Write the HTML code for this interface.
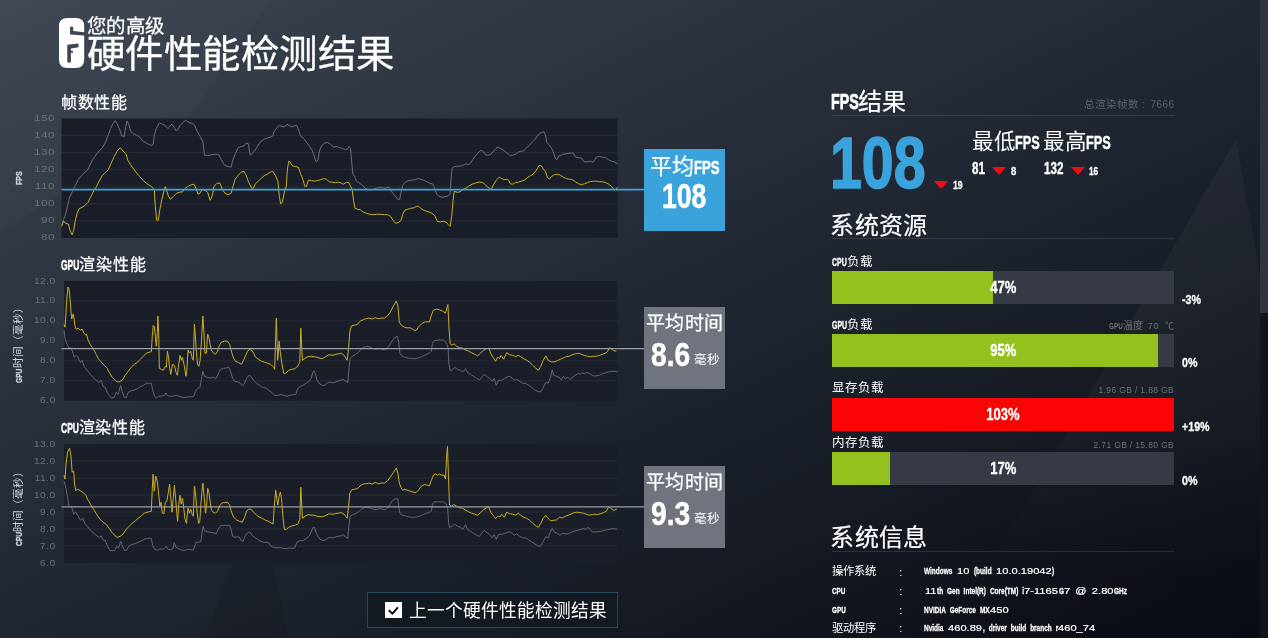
<!DOCTYPE html>
<html lang="zh-CN">
<head>
<meta charset="utf-8">
<title>硬件性能检测结果</title>
<style>
*{box-sizing:border-box;margin:0;padding:0}
html,body{width:1268px;height:638px;overflow:hidden;background:#141922}
body{position:relative;font-family:"Liberation Sans",sans-serif;color:#fff;
 background:linear-gradient(154.6deg,#3c4551 0%,#313a45 18%,#282f3b 37%,#1d232d 57.5%,#11151e 81.6%,#0d1019 90%,#0a0c14 100%);
}
.abs{position:absolute}
.cn{font-weight:300;white-space:nowrap}
.cb{font-weight:700;display:inline-block;transform-origin:0 50%;white-space:nowrap}
.yl{position:absolute;left:0;text-align:right;font-size:9px;letter-spacing:.4px;color:#6b7179;line-height:14px;height:14px;transform:scaleX(1.22);transform-origin:100% 50%}
.ct{-webkit-text-stroke:0.25px #fff;position:absolute;left:60.8px;font-size:16px;line-height:20px;white-space:nowrap;font-weight:400;letter-spacing:0.75px}
.rot{position:absolute;white-space:nowrap;transform-origin:0 0;transform:rotate(-90deg);font-size:10.6px;line-height:12px;color:#d4d7db}
.box{position:absolute;left:644px;width:81px;text-align:center}
.h2{position:absolute;left:830.3px;font-size:24px;line-height:28px;font-weight:400;white-space:nowrap;letter-spacing:.4px;-webkit-text-stroke:0.2px #fff}
.hr{position:absolute;left:831.5px;width:343.5px;height:1px;background:rgba(255,255,255,0.11)}
.bar{position:absolute;left:832px;width:342px;height:33px;background:#363a45}
.bar i{position:absolute;left:0;top:0;bottom:0;background:#95c11e;display:block}
.bar b{position:absolute;left:0;right:0;top:0;line-height:33px;text-align:center;font-size:16.3px;-webkit-text-stroke:0.4px #fff}
.bl{position:absolute;left:832px;font-size:12.5px;line-height:16px;white-space:nowrap;font-weight:400}
.br{position:absolute;right:94px;font-size:8.5px;line-height:12px;color:#6f747c;white-space:nowrap;letter-spacing:0.35px}
.dl{position:absolute;left:1181.5px;font-size:12.7px;line-height:14px;font-weight:700;white-space:nowrap;-webkit-text-stroke:0.3px #fff}
.sk{position:absolute;left:831.5px;font-size:11.3px;line-height:16px;white-space:nowrap}
.sc{position:absolute;left:899.3px;font-size:11px;line-height:16px}
.sv{position:absolute;left:924.3px;font-size:9.6px;line-height:16px;white-space:nowrap;font-weight:700}
.n{font-weight:400;letter-spacing:0.9px;font-size:9.5px}
.tri{position:absolute;width:0;height:0;border-left:7px solid transparent;border-right:7px solid transparent;border-top:8px solid #f20d12}
</style>
</head>
<body>
<div id="root" style="position:absolute;left:0;top:0;width:1268px;height:638px;will-change:transform">
<!-- decorative bg polygons -->
<svg class="abs" style="left:0;top:0" width="1268" height="638" viewBox="0 0 1268 638">
 <defs><linearGradient id="tg" x1="0" y1="0" x2="0" y2="1"><stop offset="0" stop-color="#fff" stop-opacity="0.035"/><stop offset="0.55" stop-color="#fff" stop-opacity="0.03"/><stop offset="1" stop-color="#fff" stop-opacity="0"/></linearGradient></defs>
 <polygon points="1236,139 1268,318 1268,600 970,600" fill="url(#tg)"/>
 <polygon points="0,0 272,0 192,112 0,232" fill="rgba(255,255,255,0.018)"/>
 <polygon points="205,638 288,638 268,540 240,540" fill="rgba(0,0,0,0.07)"/>
</svg>

<!-- scrollbar -->
<div class="abs" style="left:1260px;top:0;width:8px;height:638px;background:#12151b"></div>
<div class="abs" style="left:1260px;top:0;width:8px;height:313px;background:#30343f"></div>

<!-- logo -->
<svg class="abs" style="left:58px;top:17px" width="28" height="52" viewBox="58 17 28 52">
 <path fill="#fff" fill-rule="evenodd" d="M67.5,17.9 H75.7 Q84.2,17.9 84.2,26 V32.3 L73.2,31 V26.8 H70.1 V34.5 L84.2,35.5 V59.8 Q84.2,68 75.7,68 H67.5 Q59,68 59,59.8 V26 Q59,17.9 67.5,17.9 Z
 M67.3,44.7 L78.5,43.4 V47.2 L70.9,48.6 V50.7 H72.9 V52.8 H70.9 V62.4 H67.3 Z"/>
</svg>

<!-- title -->
<div class="abs cn" style="left:86.5px;top:14.2px;font-size:19px;line-height:26px;font-weight:400;-webkit-text-stroke:0.25px #fff;transform:scale(1.023,1);transform-origin:0 50%">您的高级</div>
<div class="abs cn" style="left:87px;top:29.2px;font-size:38px;line-height:50px;-webkit-text-stroke:0.35px #fff;transform:scale(1.011,1.0);transform-origin:0 50%">硬件性能检测结果</div>

<!-- chart 1 : FPS -->
<div class="ct" style="top:93px">帧数性能</div>
<div class="yl" style="top:111.0px;width:55px;transform:scaleX(1.3)">150</div><div class="yl" style="top:128.07px;width:55px;transform:scaleX(1.3)">140</div><div class="yl" style="top:145.14px;width:55px;transform:scaleX(1.3)">130</div><div class="yl" style="top:162.21px;width:55px;transform:scaleX(1.3)">120</div><div class="yl" style="top:179.28px;width:55px;transform:scaleX(1.3)">110</div><div class="yl" style="top:196.35px;width:55px;transform:scaleX(1.3)">100</div><div class="yl" style="top:213.42000000000002px;width:55px;transform:scaleX(1.3)">90</div><div class="yl" style="top:230.49px;width:55px;transform:scaleX(1.3)">80</div>
<div class="rot" style="left:13px;top:185px;font-weight:700;font-size:9.5px"><span class="cb" style="transform:scaleX(.74);-webkit-text-stroke:0.3px #d4d7db">FPS</span></div>
<svg class="abs" style="left:0;top:0" width="1268" height="638" viewBox="0 0 1268 638" fill="none">
 <rect x="61.5" y="118.5" width="556" height="119.5" fill="#1a1e28"/>
 <line x1="61.5" y1="135.6" x2="617.5" y2="135.6" stroke="rgba(255,255,255,0.065)" stroke-width="1"/><line x1="61.5" y1="152.6" x2="617.5" y2="152.6" stroke="rgba(255,255,255,0.065)" stroke-width="1"/><line x1="61.5" y1="169.7" x2="617.5" y2="169.7" stroke="rgba(255,255,255,0.065)" stroke-width="1"/><line x1="61.5" y1="186.8" x2="617.5" y2="186.8" stroke="rgba(255,255,255,0.065)" stroke-width="1"/><line x1="61.5" y1="203.8" x2="617.5" y2="203.8" stroke="rgba(255,255,255,0.065)" stroke-width="1"/><line x1="61.5" y1="220.9" x2="617.5" y2="220.9" stroke="rgba(255,255,255,0.065)" stroke-width="1"/>
 <polyline points="61.6,225.4 63.6,219.3 65.6,214.3 67.6,205.3 69.6,197.3 72.5,191.3 75.5,185.2 78.5,179.2 81.5,175.8 84.5,172.6 87.5,170.2 90.5,163.8 93.5,158.5 96.5,154.1 99.5,150.5 102.5,147.7 105.6,142.1 108.2,135.1 110.6,128.5 113.2,123.0 115.2,120.4 117.2,124.0 119.8,129.7 121.8,135.7 124.2,136.5 125.6,127.7 126.8,121.0 128.6,123.6 130.6,131.1 133.2,133.7 136.3,135.1 139.3,136.5 142.3,140.5 145.3,142.5 148.3,144.1 151.3,145.5 153.3,144.1 154.3,135.1 156.3,128.5 159.3,123.0 162.3,124.0 165.3,125.6 167.8,128.5 169.4,127.0 171.8,124.0 174.0,127.0 176.4,131.1 178.0,129.1 180.0,125.6 182.4,123.0 185.4,120.4 188.4,122.0 190.0,123.0 193.0,123.6 195.0,126.0 197.0,131.1 200.0,136.1 203.0,142.1 204.4,155.1 207.1,155.7 210.1,155.1 213.1,154.5 216.1,154.1 219.1,155.1 221.1,159.2 224.1,164.6 227.1,166.2 231.1,167.2 232.5,161.2 235.1,154.1 238.2,147.7 241.2,146.5 244.2,145.7 246.2,143.1 248.2,143.7 250.2,155.1 252.6,153.1 255.2,150.1 258.2,145.1 261.2,141.1 264.2,139.1 267.2,138.1 270.3,137.1 272.7,136.1 274.3,131.1 277.3,127.0 279.3,125.6 281.9,126.4 284.3,127.0 287.3,124.4 289.3,125.6 292.3,127.0 294.7,125.6 296.7,125.6 299.3,132.1 300.4,136.1 303.4,138.1 306.4,142.1 309.4,146.1 312.0,150.1 314.0,155.1 316.0,161.8 318.0,160.2 319.4,151.1 321.4,146.1 324.4,143.1 327.4,142.5 330.4,144.1 333.5,147.1 336.5,146.5 339.5,147.7 342.5,148.5 345.5,149.7 347.5,149.1 348.9,146.5 350.5,148.1 351.5,160.2 352.9,174.2 354.5,176.2 356.5,181.2 359.5,183.2 362.6,185.2 365.0,188.2 367.6,189.2 370.6,189.8 373.6,189.2 376.6,188.2 379.6,187.2 382.6,187.8 385.6,188.2 388.6,187.2 390.6,189.2 392.6,193.3 395.7,196.3 397.7,199.3 399.7,199.3 401.1,192.3 402.7,185.2 405.7,181.8 408.7,180.6 411.7,180.2 414.7,179.8 417.7,178.6 420.7,179.2 423.7,180.2 426.8,181.8 429.8,183.2 432.8,184.2 434.8,189.2 436.8,194.3 439.0,196.3 442.0,197.3 445.0,196.7 448.1,195.9 450.1,194.3 451.1,178.2 452.1,168.2 454.1,166.6 457.1,166.2 460.1,166.2 463.1,165.2 466.1,163.8 469.1,164.6 471.1,162.2 473.1,159.2 476.1,155.1 479.2,151.7 481.8,150.1 483.8,152.1 485.8,155.1 488.2,155.1 490.6,154.5 493.2,151.7 495.8,148.5 498.2,147.1 500.6,148.5 503.2,150.1 505.8,152.1 508.3,154.1 510.3,155.7 513.3,155.1 515.9,154.1 518.3,152.1 521.3,151.1 523.3,151.1 526.3,148.1 529.3,145.1 532.3,142.1 535.3,139.1 538.3,134.5 541.4,132.5 544.0,131.7 545.4,135.1 546.8,142.1 548.8,144.5 551.4,148.1 553.4,152.1 555.4,158.5 556.8,159.8 558.8,156.1 562.4,154.5 566.4,153.7 570.4,153.1 573.5,153.1 575.5,157.1 578.5,157.7 581.5,158.1 584.1,161.8 587.5,161.8 590.5,161.2 592.9,162.2 594.5,160.2 596.5,157.1 599.5,156.5 602.6,157.1 605.6,157.7 608.6,159.8 611.6,161.2 614.6,162.2 617.6,163.8" stroke="#70757f" stroke-width="0.95" stroke-linejoin="round"/>
 <polyline points="61.6,226.4 63.6,221.3 66.0,223.4 68.4,224.0 70.0,230.4 72.1,234.8 73.7,230.4 75.1,221.3 77.1,213.3 79.1,208.7 82.1,207.3 85.1,205.3 88.1,202.3 90.5,197.3 93.1,192.3 96.1,187.2 99.1,181.2 102.1,175.8 105.2,172.6 108.2,169.8 111.2,163.2 114.2,156.5 117.2,151.1 120.2,147.7 123.2,151.1 126.2,154.5 127.8,160.2 130.6,164.6 133.8,169.2 137.3,173.8 140.3,177.2 143.3,180.6 146.3,183.2 149.3,185.2 152.3,187.2 154.3,190.3 155.3,206.3 156.7,220.3 158.3,220.3 159.9,209.3 161.9,199.3 163.9,191.3 165.3,186.6 167.0,191.3 168.4,196.3 170.4,199.3 173.4,196.3 176.4,193.3 179.4,192.3 182.4,191.9 185.4,188.2 188.4,186.2 190.0,185.2 194.0,184.2 196.0,188.2 198.0,194.3 200.0,193.3 202.0,189.2 205.0,190.3 207.7,192.3 210.1,200.3 212.1,196.3 214.1,186.2 217.1,183.2 220.1,183.2 222.1,189.2 225.1,193.3 228.1,194.7 231.1,193.3 233.1,186.2 235.1,179.2 238.2,175.2 241.2,172.2 243.8,171.2 246.2,175.2 248.2,181.2 250.2,185.2 252.6,189.8 255.2,184.2 258.2,181.2 261.2,178.2 264.2,175.8 267.2,174.2 270.3,172.2 272.7,171.2 275.3,175.2 277.9,181.2 279.3,196.3 280.7,203.9 282.3,202.3 284.3,192.3 286.3,186.2 287.3,170.2 288.7,161.2 290.3,162.2 292.3,165.8 295.3,166.6 298.3,167.2 300.4,173.2 302.8,179.2 304.8,186.2 306.4,186.6 308.4,180.2 311.4,180.6 314.4,181.2 317.4,180.6 320.4,179.8 323.4,178.6 326.4,179.2 329.4,181.8 332.5,182.2 335.5,182.6 338.5,182.2 341.5,183.2 343.5,184.2 346.5,182.2 348.9,182.6 350.5,186.2 352.1,189.2 353.5,200.3 354.9,208.3 357.5,209.3 360.5,209.9 363.6,212.3 366.6,213.3 369.6,214.3 372.6,214.7 376.6,214.3 380.6,214.3 384.6,214.7 387.6,214.7 390.6,216.3 393.0,220.3 395.7,223.4 398.7,222.4 401.1,220.3 402.7,214.3 404.7,210.3 407.7,209.3 410.7,208.3 413.7,207.9 416.7,206.3 418.7,206.3 420.7,208.3 423.7,210.3 426.8,211.3 429.8,212.3 432.8,213.9 435.2,216.3 437.2,221.3 440.0,222.0 443.0,221.3 446.1,222.0 448.1,224.4 450.1,226.4 451.7,216.3 453.1,200.3 454.1,191.3 457.1,192.3 460.1,191.9 463.1,189.2 466.1,188.2 469.1,185.8 472.1,184.2 475.1,183.2 478.2,182.2 481.2,182.2 483.8,183.2 486.2,185.8 489.2,188.2 491.2,189.8 493.2,185.2 496.2,180.2 499.2,177.2 501.2,178.2 503.8,179.8 506.2,179.2 508.7,180.2 510.3,183.8 512.7,184.2 515.3,182.6 518.3,182.2 521.3,181.2 524.3,180.2 527.3,177.8 530.3,175.8 533.3,174.2 536.3,170.2 539.3,165.2 541.4,165.8 543.4,169.2 545.4,171.2 547.4,177.2 549.4,179.2 551.4,176.6 554.4,174.6 557.4,174.2 560.4,175.2 563.4,177.2 566.4,178.6 569.4,179.2 572.5,179.8 575.5,181.8 578.5,183.8 581.5,184.6 584.5,183.8 587.5,182.6 590.5,181.6 593.5,181.2 596.5,181.2 599.5,181.8 602.6,181.8 605.6,182.6 608.6,184.2 611.6,186.6 614.2,189.8 616.2,189.2 617.6,187.2" stroke="#cdae20" stroke-width="1.0" stroke-linejoin="round"/>
 <line x1="61.5" y1="189.6" x2="644" y2="189.6" stroke="#3da5dc" stroke-width="1.6"/>

 <rect x="64" y="281" width="553.5" height="119.7" fill="#1a1e28"/>
 <line x1="64" y1="300.9" x2="617.5" y2="300.9" stroke="rgba(255,255,255,0.065)" stroke-width="1"/><line x1="64" y1="320.9" x2="617.5" y2="320.9" stroke="rgba(255,255,255,0.065)" stroke-width="1"/><line x1="64" y1="340.9" x2="617.5" y2="340.9" stroke="rgba(255,255,255,0.065)" stroke-width="1"/><line x1="64" y1="360.8" x2="617.5" y2="360.8" stroke="rgba(255,255,255,0.065)" stroke-width="1"/><line x1="64" y1="380.8" x2="617.5" y2="380.8" stroke="rgba(255,255,255,0.065)" stroke-width="1"/>
 <polyline points="64.0,330.2 65.0,338.2 67.0,344.2 69.0,348.2 71.0,347.8 73.1,353.2 74.1,357.3 76.1,355.3 77.7,356.3 79.1,360.3 80.5,362.3 82.1,360.3 84.1,366.3 87.1,370.3 90.1,374.3 93.1,377.3 96.1,380.3 99.1,382.3 101.1,380.3 103.2,386.4 105.2,387.4 107.2,392.4 109.2,395.4 111.2,398.0 114.2,397.4 116.2,392.4 118.2,394.4 120.6,385.3 122.2,391.4 124.2,397.4 126.2,397.4 128.2,392.4 131.2,390.8 134.3,390.0 137.3,388.8 140.3,386.8 143.3,385.3 146.3,383.3 149.3,383.3 151.3,383.3 152.7,390.4 154.7,396.4 156.3,398.4 158.3,396.4 161.3,396.0 164.3,395.4 166.0,392.8 167.4,395.4 170.4,396.4 173.4,396.0 176.4,395.4 179.4,396.4 182.4,397.4 185.4,397.4 188.4,396.8 191.4,396.8 194.0,396.0 195.4,391.4 197.5,388.4 200.1,387.4 201.5,378.3 202.9,371.3 204.5,376.3 207.5,377.3 210.5,377.9 213.5,377.3 216.1,378.3 218.1,374.3 220.5,369.3 223.5,368.3 226.5,367.9 228.6,367.3 230.6,371.3 232.6,378.3 234.6,381.3 237.6,381.9 240.2,383.3 242.6,386.0 244.6,383.3 246.6,378.3 249.0,375.3 251.0,376.3 253.6,380.3 256.6,383.3 259.7,385.3 262.7,387.4 265.7,388.0 268.7,390.4 271.7,392.4 274.7,395.4 277.7,395.4 280.7,394.4 283.7,395.4 286.7,396.4 289.7,395.4 292.8,394.8 295.8,394.4 297.8,388.4 299.8,387.0 303.0,385.3 306.0,383.3 309.0,381.3 311.0,378.3 313.0,372.3 314.0,370.7 315.7,375.3 317.1,380.3 319.1,383.3 322.1,385.3 325.1,385.3 328.1,382.3 331.1,382.3 334.1,382.7 337.1,381.3 340.1,380.3 343.1,379.3 345.7,381.3 347.8,382.3 348.8,370.3 350.2,358.3 352.2,356.3 355.2,354.7 358.2,352.6 361.2,349.2 364.2,347.2 367.2,346.2 370.2,347.2 373.2,348.6 376.2,349.2 379.3,348.6 382.3,349.2 385.3,349.8 388.3,347.2 391.3,342.2 394.3,338.2 397.3,336.2 398.7,342.2 399.9,353.2 402.3,356.3 405.3,357.3 408.3,358.3 411.4,358.3 414.4,358.7 417.4,358.3 420.4,357.3 423.4,355.9 426.4,354.3 429.4,353.2 431.4,351.2 432.4,343.2 434.4,340.6 437.4,340.2 440.4,339.8 443.5,340.2 446.5,343.2 448.1,348.2 448.9,364.3 450.1,370.3 452.1,370.3 454.5,367.3 457.5,369.3 460.5,370.3 462.9,371.9 465.5,368.7 467.5,372.3 470.5,374.3 473.6,376.3 476.6,378.3 479.6,379.9 481.6,377.3 484.2,374.3 486.6,376.3 489.6,378.3 492.2,381.3 494.2,378.3 496.2,385.3 498.6,380.3 501.6,380.3 504.7,378.3 507.7,376.7 509.7,376.3 512.7,378.7 514.7,380.3 516.7,379.3 519.7,381.3 522.7,383.3 525.7,383.3 528.7,385.3 531.7,387.4 534.8,390.0 537.8,391.4 540.4,392.0 542.8,388.4 545.8,382.3 548.2,383.3 550.2,378.3 552.2,369.9 553.8,375.3 556.2,376.3 559.3,377.3 561.3,380.3 563.3,376.3 565.3,378.7 567.9,377.3 569.9,379.3 572.3,377.3 575.3,375.3 578.3,373.3 580.3,374.3 582.3,372.7 584.3,373.9 586.3,372.7 588.3,372.7 590.4,374.3 593.4,375.9 596.4,375.9 599.4,375.3 602.4,373.9 605.4,372.7 608.4,371.9 611.4,371.3 614.4,371.3 617.4,371.9" stroke="#666b76" stroke-width="0.95" stroke-linejoin="round"/>
 <polyline points="64.0,324.2 65.0,327.2 66.0,312.1 67.0,296.1 68.0,287.0 69.0,289.0 70.0,298.1 71.0,311.1 71.7,319.1 73.1,314.1 74.1,319.1 75.1,326.2 76.1,329.2 78.1,328.2 80.1,330.2 82.1,329.2 84.1,333.2 85.7,335.2 86.5,334.2 88.1,340.2 90.1,344.2 92.1,347.2 94.1,350.2 96.1,354.3 98.1,358.3 101.1,361.9 104.2,365.3 107.2,368.3 109.2,372.3 112.2,377.3 115.2,380.3 117.2,381.9 119.2,381.9 122.2,380.3 125.2,375.3 128.2,371.3 131.2,367.3 134.3,364.3 137.3,362.3 140.3,359.3 143.3,356.3 146.3,353.2 149.3,352.2 151.3,351.8 152.3,336.2 153.3,325.2 154.3,326.2 155.3,336.2 156.3,346.2 157.3,332.2 157.9,316.1 158.7,332.2 159.3,368.3 161.3,369.3 163.3,370.3 165.3,366.3 166.4,367.3 167.4,351.2 168.4,356.3 169.4,366.3 170.8,374.3 172.4,364.3 174.4,365.3 176.0,372.3 177.4,375.3 178.4,366.3 180.0,355.3 181.4,360.3 182.4,357.3 184.4,366.3 186.0,376.3 186.8,370.3 188.0,350.2 189.4,353.2 190.8,351.2 192.4,359.3 193.4,360.3 194.4,324.2 195.4,336.2 196.4,352.2 197.5,364.3 198.9,366.3 200.1,360.3 201.5,340.2 202.9,316.1 203.9,332.2 204.9,353.2 206.5,353.2 207.5,334.2 208.5,335.2 210.1,344.2 211.5,350.2 213.5,353.2 215.5,354.3 217.5,351.2 219.5,345.2 221.5,342.2 224.5,341.2 227.5,341.2 229.6,344.2 231.6,352.2 233.6,358.3 235.6,361.3 238.6,362.7 241.6,364.3 243.6,360.3 245.6,355.3 247.6,351.2 249.6,349.2 251.6,350.2 253.6,353.2 255.6,357.3 258.6,359.3 261.7,361.3 264.7,362.3 267.7,363.3 270.7,364.3 273.7,367.3 274.7,369.3 275.7,336.2 276.3,318.1 277.1,342.2 277.7,360.3 279.1,341.2 280.3,352.2 281.7,362.3 283.7,373.3 285.7,373.3 288.7,370.3 291.8,369.3 294.8,368.7 297.8,366.3 299.8,362.3 300.8,328.2 302.4,360.3 305.0,358.3 308.0,356.7 311.0,356.3 314.0,356.7 317.1,357.3 320.1,358.3 323.1,358.3 326.1,356.3 329.1,354.7 332.1,355.3 335.1,354.7 338.1,353.8 341.1,353.2 344.1,355.3 347.2,360.3 348.6,348.2 349.8,332.2 351.2,326.2 354.2,325.2 357.2,324.6 360.2,321.1 363.2,319.7 366.2,318.5 369.2,318.1 372.2,319.1 375.2,317.7 378.3,318.7 381.3,318.1 384.3,318.1 387.3,316.1 390.3,312.1 393.3,306.1 396.3,301.1 397.9,306.1 399.3,322.1 401.3,325.2 404.3,327.2 407.3,327.8 410.4,327.8 413.4,329.8 416.0,330.6 418.4,327.2 421.4,323.8 424.4,322.1 427.4,321.7 429.4,322.1 431.4,315.1 433.4,310.1 436.4,309.1 439.4,309.7 442.5,311.1 445.5,313.1 446.9,308.1 447.9,304.5 448.9,326.2 450.1,343.2 451.5,345.2 454.1,343.8 456.5,346.2 459.5,347.8 462.5,348.2 465.5,349.8 468.5,351.2 471.5,352.6 474.6,354.3 477.6,355.9 480.6,353.2 483.6,350.2 486.6,348.6 489.0,348.2 490.6,353.2 493.0,357.3 495.6,361.3 497.6,357.3 499.6,358.3 501.0,355.3 503.7,359.3 506.7,352.6 509.7,354.7 512.7,355.3 515.7,356.7 518.3,355.3 520.7,356.7 523.7,358.7 526.7,360.3 529.7,362.3 532.7,365.3 535.8,368.3 538.4,370.3 540.8,366.3 543.2,360.3 545.8,355.9 548.2,360.3 551.2,361.9 554.2,361.9 557.2,360.7 560.3,359.3 563.3,357.9 566.3,356.7 569.3,356.3 572.3,354.7 575.3,353.8 578.3,353.2 581.3,354.3 584.3,355.3 587.3,356.3 590.4,356.7 593.4,356.3 596.4,356.3 599.4,355.3 602.4,354.3 605.4,353.2 607.4,351.8 609.4,347.8 611.4,348.6 613.4,350.6 616.4,351.2" stroke="#cdae20" stroke-width="1.0" stroke-linejoin="round"/>
 <line x1="61.5" y1="348.6" x2="644" y2="348.6" stroke="#9a9ea6" stroke-width="1.3"/>

 <rect x="64" y="444" width="553.5" height="119" fill="#1a1e28"/>
 <line x1="64" y1="461.0" x2="617.5" y2="461.0" stroke="rgba(255,255,255,0.065)" stroke-width="1"/><line x1="64" y1="478.0" x2="617.5" y2="478.0" stroke="rgba(255,255,255,0.065)" stroke-width="1"/><line x1="64" y1="495.0" x2="617.5" y2="495.0" stroke="rgba(255,255,255,0.065)" stroke-width="1"/><line x1="64" y1="512.0" x2="617.5" y2="512.0" stroke="rgba(255,255,255,0.065)" stroke-width="1"/><line x1="64" y1="529.0" x2="617.5" y2="529.0" stroke="rgba(255,255,255,0.065)" stroke-width="1"/><line x1="64" y1="546.0" x2="617.5" y2="546.0" stroke="rgba(255,255,255,0.065)" stroke-width="1"/>
 <polyline points="64.0,481.1 66.0,488.2 67.6,498.2 69.0,506.2 71.7,507.2 73.7,514.2 75.7,512.2 77.7,515.2 79.7,519.3 81.1,520.3 82.7,517.9 84.5,523.3 87.1,526.3 90.1,529.9 93.1,532.7 96.1,535.3 99.1,537.3 101.1,535.9 103.2,540.3 105.2,540.3 107.2,545.3 109.8,550.4 112.2,550.8 114.6,550.4 116.6,546.3 118.6,548.0 120.6,541.3 122.6,546.3 124.6,550.4 126.6,550.4 128.6,546.3 131.2,544.7 134.3,543.9 137.3,542.7 140.3,541.3 143.3,539.9 146.3,538.3 149.3,538.3 151.3,538.3 152.7,545.3 154.7,549.4 157.3,550.4 160.3,548.8 163.3,549.4 166.0,546.3 168.0,549.4 170.8,549.4 172.8,548.8 174.4,542.7 176.0,547.3 178.8,548.8 181.4,550.0 184.4,550.4 187.4,549.4 190.4,549.4 193.4,550.0 196.0,542.3 198.5,542.3 200.9,541.3 202.1,532.3 203.1,526.3 204.5,530.7 207.5,531.9 210.5,532.3 213.5,532.7 216.1,533.9 218.1,529.3 220.5,525.9 223.5,525.3 226.5,525.3 229.6,525.3 231.0,529.3 232.6,536.3 235.0,537.3 237.6,536.7 239.6,537.3 241.0,540.3 243.0,541.3 245.0,536.3 247.6,532.7 249.6,531.9 252.2,535.3 254.6,537.3 257.6,539.3 260.7,541.3 263.7,542.3 266.7,542.3 268.7,542.7 270.7,545.9 273.7,547.3 276.7,548.0 279.7,547.3 282.7,548.4 285.7,548.8 288.7,548.0 291.8,548.4 294.8,548.0 296.8,542.3 299.8,540.7 303.0,540.7 306.0,538.7 309.0,536.3 311.0,532.3 313.0,527.3 314.4,527.3 316.1,532.3 318.1,536.7 320.1,539.3 323.1,540.7 326.1,539.9 329.1,537.3 332.1,537.9 335.1,537.3 338.1,536.3 341.1,535.9 343.7,534.7 345.7,537.3 347.8,538.3 348.8,526.3 350.2,516.3 352.6,514.6 355.2,513.8 358.2,512.2 361.2,509.2 364.2,507.8 367.2,507.2 370.2,508.2 373.2,509.2 376.2,509.8 379.3,508.6 382.3,509.2 385.3,509.8 388.3,507.2 390.7,503.2 393.3,499.8 395.9,498.6 397.9,499.2 398.7,506.2 399.9,513.2 402.3,515.2 405.3,515.8 408.3,516.7 411.4,517.3 414.4,517.3 417.4,516.7 420.4,515.8 423.4,514.6 426.4,513.2 429.4,512.6 431.4,511.2 432.4,504.2 434.4,501.8 437.4,501.8 440.4,501.8 443.5,501.8 446.1,503.8 447.7,508.2 448.5,522.3 449.5,527.3 452.1,526.3 454.5,523.9 457.5,526.3 460.5,527.3 462.9,529.3 465.5,524.7 467.5,529.3 470.5,531.3 473.6,533.3 476.6,535.3 479.6,536.3 481.6,533.3 484.2,530.3 486.6,532.3 489.6,534.3 492.2,537.9 494.2,534.7 496.2,539.3 498.6,534.3 501.6,534.3 504.7,533.3 507.7,532.3 510.3,531.9 512.7,533.9 514.7,535.3 516.7,533.9 519.7,536.3 522.7,537.9 525.7,537.9 528.7,539.9 531.7,541.9 534.8,543.9 537.8,545.9 540.4,546.3 542.8,542.3 545.8,536.7 548.2,537.9 550.2,532.3 552.2,528.3 554.2,531.9 557.2,533.3 559.9,535.3 562.3,533.3 565.3,533.9 568.3,533.9 571.3,532.3 574.3,531.3 577.3,530.3 580.3,529.3 583.3,528.7 585.9,529.3 588.3,527.3 590.0,529.3 592.0,531.9 594.4,531.9 597.4,531.9 600.4,531.5 603.4,530.7 606.4,529.9 609.4,529.3 612.4,528.7 615.4,528.7 617.4,529.3" stroke="#666b76" stroke-width="0.95" stroke-linejoin="round"/>
 <polyline points="64.0,475.1 65.0,479.1 66.0,464.1 67.6,452.0 69.6,448.0 71.0,456.1 72.1,472.1 73.7,471.1 74.5,484.1 75.7,490.6 77.7,489.2 80.1,490.6 83.1,492.6 85.7,495.2 88.1,500.2 91.1,505.2 94.1,510.2 97.1,515.2 100.1,519.3 103.2,522.3 106.2,524.3 109.2,528.3 112.2,532.7 115.2,535.9 117.2,537.3 120.2,536.3 123.2,533.9 126.2,529.3 129.2,526.3 132.2,523.3 135.3,520.7 138.3,518.3 141.3,515.8 144.3,513.2 147.3,512.2 151.3,511.2 152.3,488.2 153.1,474.1 154.3,491.2 155.7,476.1 157.3,481.1 158.7,494.2 159.9,506.2 161.1,502.2 162.3,513.2 163.9,513.8 165.3,502.2 166.8,501.2 168.4,492.2 169.6,484.1 170.8,498.2 172.0,512.2 173.4,496.2 174.4,485.2 175.6,498.2 176.8,513.2 177.6,521.3 178.8,504.2 180.0,495.2 181.2,504.2 182.4,498.2 183.6,506.2 184.8,518.3 186.4,523.3 188.0,508.2 189.4,513.2 190.8,509.2 192.4,515.2 193.4,516.3 194.4,486.2 195.8,496.2 197.1,512.2 198.5,523.3 199.7,522.3 200.9,504.2 202.1,490.2 202.9,483.1 204.1,496.2 205.5,513.2 206.5,506.2 207.7,488.2 208.9,492.2 210.1,501.2 211.5,510.2 213.5,512.6 215.5,513.2 217.5,511.2 219.5,506.2 221.5,503.2 224.5,502.6 227.5,502.2 229.6,505.2 231.6,512.2 233.6,517.3 236.6,519.9 239.6,521.3 242.2,522.3 244.6,517.3 246.6,511.2 248.6,509.2 251.0,509.2 253.6,512.2 256.6,515.2 259.7,517.3 262.7,518.7 265.7,520.3 268.7,521.3 271.7,523.3 273.1,523.9 274.3,506.2 275.7,490.2 276.7,498.2 277.9,505.2 279.1,496.2 280.3,492.2 281.5,498.2 282.7,514.2 284.3,529.3 286.3,529.3 288.7,527.3 291.8,525.9 294.8,525.3 297.8,523.9 299.8,519.3 300.8,487.2 302.4,518.3 305.0,516.3 308.0,514.6 311.0,515.2 314.0,515.2 317.1,516.3 320.1,516.7 323.1,516.7 326.1,515.2 329.1,513.8 332.1,514.2 335.1,513.8 338.1,513.2 341.1,512.6 344.1,514.2 347.2,518.3 348.6,506.2 349.8,493.2 351.8,489.8 354.6,489.2 357.6,488.6 360.2,485.8 363.2,484.1 366.2,483.7 369.2,483.1 372.2,484.1 375.2,482.5 378.3,483.7 381.3,483.1 384.3,483.1 387.3,481.1 390.3,477.1 393.3,472.5 396.3,468.1 397.9,473.1 399.3,483.1 401.3,488.2 402.7,490.2 404.7,489.2 407.3,490.2 410.4,491.2 413.4,492.2 416.0,492.6 418.4,490.2 421.4,486.2 424.4,484.5 427.4,485.2 429.4,485.8 431.4,480.1 433.4,475.1 435.4,474.1 437.4,475.1 439.4,474.1 441.5,475.1 444.1,475.1 445.5,479.1 446.5,458.1 447.5,446.4 448.5,478.1 449.5,505.2 451.5,506.2 454.1,504.6 456.5,506.2 459.5,507.8 462.5,508.2 465.5,510.2 468.5,511.8 471.5,513.2 474.6,514.2 477.6,515.2 480.6,512.6 483.6,509.8 486.6,507.8 489.0,507.2 490.6,512.2 493.0,515.2 495.6,518.7 497.6,516.3 500.2,516.7 501.6,514.2 504.3,517.3 506.7,512.2 509.7,513.8 512.7,514.2 515.7,515.2 518.3,513.2 520.7,515.2 523.7,517.3 526.7,518.3 529.7,520.3 532.7,523.3 535.8,525.9 538.4,527.3 540.8,523.3 543.2,518.3 545.8,515.2 548.2,518.7 550.6,520.7 553.8,520.3 556.6,519.9 559.3,517.3 562.3,517.9 565.3,516.3 568.3,515.2 571.3,513.8 574.3,512.6 577.3,512.2 580.3,512.6 583.3,513.2 586.3,514.2 589.3,515.2 592.4,514.6 594.8,514.2 597.4,514.6 600.4,513.8 603.4,512.6 606.4,511.2 608.4,507.2 610.4,507.8 612.4,509.8 614.4,510.2 616.8,509.2" stroke="#cdae20" stroke-width="1.0" stroke-linejoin="round"/>
 <line x1="61.5" y1="506.8" x2="644" y2="506.8" stroke="#9a9ea6" stroke-width="1.3"/>
</svg>
<div class="box" style="top:149px;height:82px;background:#3aa3db">
 <div class="abs cn" style="left:5.5px;top:2.5px;font-size:22px;line-height:30px;font-weight:400;letter-spacing:.5px;-webkit-text-stroke:0.25px #fff">平均</div>
 <div class="abs" style="left:50.3px;top:6.5px;font-size:18.5px;line-height:24px;font-weight:700"><span class="cb" style="transform:scaleX(.71);-webkit-text-stroke:0.5px #fff">FPS</span></div>
 <div class="abs" style="left:18px;top:26.5px;font-size:35px;line-height:40px;font-weight:700"><span class="cb" style="transform:scaleX(.76);-webkit-text-stroke:0.5px #fff">108</span></div>
</div>

<!-- chart 2 : GPU -->
<div class="ct" style="top:255px"><span class="cb" style="transform:scaleX(.60);font-size:14.2px;margin-right:-12.2px;letter-spacing:0;-webkit-text-stroke:0.45px #fff">GPU</span>渲染性能</div>
<div class="yl" style="top:273.5px;width:55.5px;transform:scaleX(1.13)">12.0</div><div class="yl" style="top:293.45px;width:55.5px;transform:scaleX(1.13)">11.0</div><div class="yl" style="top:313.4px;width:55.5px;transform:scaleX(1.13)">10.0</div><div class="yl" style="top:333.35px;width:55.5px;transform:scaleX(1.13)">9.0</div><div class="yl" style="top:353.3px;width:55.5px;transform:scaleX(1.13)">8.0</div><div class="yl" style="top:373.25px;width:55.5px;transform:scaleX(1.13)">7.0</div><div class="yl" style="top:393.2px;width:55.5px;transform:scaleX(1.13)">6.0</div>
<div class="rot" style="left:12.2px;top:382.6px"><span class="cb" style="transform:scaleX(.70);font-size:9.5px;margin-right:-6px;-webkit-text-stroke:0.3px #d4d7db">GPU</span>时间（毫秒）</div>
<div class="box" style="top:307px;height:82px;background:#6f747f">
 <div class="abs cn" style="left:2px;top:3.5px;font-size:19px;line-height:26px;font-weight:400;letter-spacing:.35px;-webkit-text-stroke:0.25px #fff">平均时间</div>
 <div class="abs" style="left:7px;top:27px;font-size:34px;line-height:40px;font-weight:700"><span class="cb" style="transform:scaleX(.83);-webkit-text-stroke:0.5px #fff">8.6</span></div>
 <div class="abs cn" style="left:49.5px;top:44px;font-size:12.5px;line-height:18px;font-weight:400">毫秒</div>
</div>

<!-- chart 3 : CPU -->
<div class="ct" style="top:418px"><span class="cb" style="transform:scaleX(.60);font-size:14.2px;margin-right:-12.2px;letter-spacing:0;-webkit-text-stroke:0.45px #fff">CPU</span>渲染性能</div>
<div class="yl" style="top:436.5px;width:55.5px;transform:scaleX(1.13)">13.0</div><div class="yl" style="top:453.5px;width:55.5px;transform:scaleX(1.13)">12.0</div><div class="yl" style="top:470.5px;width:55.5px;transform:scaleX(1.13)">11.0</div><div class="yl" style="top:487.5px;width:55.5px;transform:scaleX(1.13)">10.0</div><div class="yl" style="top:504.5px;width:55.5px;transform:scaleX(1.13)">9.0</div><div class="yl" style="top:521.5px;width:55.5px;transform:scaleX(1.13)">8.0</div><div class="yl" style="top:538.5px;width:55.5px;transform:scaleX(1.13)">7.0</div><div class="yl" style="top:555.5px;width:55.5px;transform:scaleX(1.13)">6.0</div>
<div class="rot" style="left:12.2px;top:545.6px"><span class="cb" style="transform:scaleX(.70);font-size:9.5px;margin-right:-6px;-webkit-text-stroke:0.3px #d4d7db">CPU</span>时间（毫秒）</div>
<div class="box" style="top:466px;height:82px;background:#6f747f">
 <div class="abs cn" style="left:2px;top:3.5px;font-size:19px;line-height:26px;font-weight:400;letter-spacing:.35px;-webkit-text-stroke:0.25px #fff">平均时间</div>
 <div class="abs" style="left:7px;top:27px;font-size:34px;line-height:40px;font-weight:700"><span class="cb" style="transform:scaleX(.83);-webkit-text-stroke:0.5px #fff">9.3</span></div>
 <div class="abs cn" style="left:49.5px;top:44px;font-size:12.5px;line-height:18px;font-weight:400">毫秒</div>
</div>

<!-- previous result toggle -->
<div class="abs" style="left:367px;top:592px;width:251px;height:36px;background:#131920;border:1px solid #24495a"></div>
<div class="abs" style="left:385px;top:602px;width:17px;height:16px;background:#fff">
 <svg width="17" height="16" viewBox="0 0 17 16" style="display:block"><path d="M3.8 8.2 L7.4 11.6 L12.9 5.4" fill="none" stroke="#000" stroke-width="1.9"/></svg>
</div>
<div class="abs cn" style="left:408.6px;top:598.5px;font-size:17.7px;line-height:24px;font-weight:400">上一个硬件性能检测结果</div>

<!-- right column : FPS results -->
<div class="abs" style="left:830.5px;top:88px;font-size:21.4px;line-height:28px;font-weight:700"><span class="cb" style="transform:scaleX(.665);-webkit-text-stroke:0.75px #fff">FPS</span></div>
<div class="h2" style="left:858px;top:87.5px;font-weight:400">结果</div>
<div class="abs cn" style="right:93.5px;top:96.5px;font-size:10.6px;line-height:14px;color:#5c626c;font-weight:400;">总渲染帧数&nbsp;:&nbsp;&nbsp;<span style="font-size:10px;letter-spacing:.45px">7666</span></div>
<div class="hr" style="top:115px"></div>
<div class="abs" style="left:830px;top:121px;font-size:73px;line-height:84px;font-weight:700;color:#3aa3dc"><span class="cb" style="transform:scaleX(.785);-webkit-text-stroke:1.6px #3aa3dc">108</span></div>
<div class="tri" style="left:934px;top:180.5px"></div>
<div class="abs" style="left:953px;top:179px;font-size:10.5px;line-height:12px;font-weight:700"><span class="cb" style="transform:scaleX(.82);-webkit-text-stroke:0.3px #fff">19</span></div>

<div class="abs cn" style="left:972px;top:127.5px;font-size:21.5px;line-height:28px;font-weight:400">最低</div>
<div class="abs" style="left:1015.3px;top:130.5px;font-size:19px;line-height:24px;font-weight:700"><span class="cb" style="transform:scaleX(.67);-webkit-text-stroke:0.4px #fff">FPS</span></div>
<div class="abs cn" style="left:1042.7px;top:127.5px;font-size:21.5px;line-height:28px;font-weight:400">最高</div>
<div class="abs" style="left:1086px;top:130.5px;font-size:19px;line-height:24px;font-weight:700"><span class="cb" style="transform:scaleX(.67);-webkit-text-stroke:0.4px #fff">FPS</span></div>

<div class="abs" style="left:972.3px;top:160.4px;font-size:16.6px;line-height:18px;font-weight:700"><span class="cb" style="transform:scaleX(.70);-webkit-text-stroke:0.4px #fff">81</span></div>
<div class="tri" style="left:992.2px;top:166.5px;border-left-width:7.9px;border-right-width:7.9px"></div>
<div class="abs" style="left:1011px;top:165.6px;font-size:10px;line-height:12px;font-weight:700"><span class="cb" style="transform:scaleX(.95);-webkit-text-stroke:0.3px #fff">8</span></div>
<div class="abs" style="left:1044px;top:160.4px;font-size:16.6px;line-height:18px;font-weight:700"><span class="cb" style="transform:scaleX(.70);-webkit-text-stroke:0.4px #fff">132</span></div>
<div class="tri" style="left:1070.6px;top:166.5px;border-left-width:7.9px;border-right-width:7.9px"></div>
<div class="abs" style="left:1089.3px;top:165.6px;font-size:10px;line-height:12px;font-weight:700"><span class="cb" style="transform:scaleX(.82);-webkit-text-stroke:0.3px #fff">16</span></div>

<!-- system resources -->
<div class="h2" style="top:212px">系统资源</div>
<div class="hr" style="top:238px"></div>

<div class="bl" style="top:253.6px"><span class="cb" style="transform:scaleX(.7);font-size:10px;margin-right:-6.5px;-webkit-text-stroke:0.3px #fff">CPU</span>负载</div>
<div class="bar" style="top:271px"><i style="width:161px"></i><b><span class="cb" style="transform:scaleX(.80);transform-origin:50% 50%">47%</span></b></div>
<div class="dl" style="top:293px"><span class="cb" style="transform:scaleX(.84)">-3%</span></div>

<div class="bl" style="top:316.6px"><span class="cb" style="transform:scaleX(.7);font-size:10px;margin-right:-6.5px;-webkit-text-stroke:0.3px #fff">GPU</span>负载</div>
<div class="br" style="top:320px"><span class="cb" style="transform:scaleX(.68);font-size:9.3px;margin-right:-6px;letter-spacing:0">GPU</span><span style="font-size:10px;letter-spacing:0">温度</span>&nbsp;&nbsp;<span style="letter-spacing:1px">70</span>&nbsp;&nbsp;<span style="font-size:9px;letter-spacing:0">℃</span></div>
<div class="bar" style="top:334px"><i style="width:325.5px"></i><b><span class="cb" style="transform:scaleX(.80);transform-origin:50% 50%">95%</span></b></div>
<div class="dl" style="top:356px"><span class="cb" style="transform:scaleX(.84)">0%</span></div>

<div class="bl" style="top:379.5px">显存负载</div>
<div class="br" style="top:383.5px">1.96 GB / 1.88 GB</div>
<div class="bar" style="top:397.5px;background:#f90505"><b><span class="cb" style="transform:scaleX(.80);transform-origin:50% 50%">103%</span></b></div>
<div class="dl" style="top:419.5px"><span class="cb" style="transform:scaleX(.84)">+19%</span></div>

<div class="bl" style="top:434.5px">内存负载</div>
<div class="br" style="top:438.5px">2.71 GB / 15.80 GB</div>
<div class="bar" style="top:452px"><i style="width:58px"></i><b><span class="cb" style="transform:scaleX(.80);transform-origin:50% 50%">17%</span></b></div>
<div class="dl" style="top:474px"><span class="cb" style="transform:scaleX(.84)">0%</span></div>

<!-- system info -->
<div class="h2" style="top:524px">系统信息</div>
<div class="hr" style="top:551px"></div>

<div class="sk cn" style="top:563.3px;font-weight:400">操作系统</div><div class="sc" style="top:564px">:</div>
<div class="sv" style="top:563.4px"><span style="display:inline-block;white-space:pre;font-weight:700;font-size:9.6px;word-spacing:3.2px;transform:scaleX(0.675);transform-origin:0 50%;margin-left:0.0px;margin-right:-15.57px;-webkit-text-stroke:0.3px #fff;">Windows </span><span style="display:inline-block;white-space:pre;font-weight:400;font-size:9.6px;word-spacing:1.8px;transform:scaleX(1.16);transform-origin:0 50%;margin-left:0.5px;margin-right:2.21px;-webkit-text-stroke:0.2px #fff;">10</span><span style="display:inline-block;white-space:pre;font-weight:700;font-size:9.6px;word-spacing:3.2px;transform:scaleX(0.675);transform-origin:0 50%;margin-left:0.0px;margin-right:-12.30px;-webkit-text-stroke:0.3px #fff;"> (build </span><span style="display:inline-block;white-space:pre;font-weight:400;font-size:9.6px;word-spacing:1.8px;transform:scaleX(1.16);transform-origin:0 50%;margin-left:0.5px;margin-right:8.19px;-webkit-text-stroke:0.2px #fff;">10.0.19042</span><span style="display:inline-block;white-space:pre;font-weight:700;font-size:9.6px;word-spacing:3.2px;transform:scaleX(0.675);transform-origin:0 50%;margin-left:0.0px;margin-right:-1.04px;-webkit-text-stroke:0.3px #fff;">)</span></div>

<div class="sk" style="top:582.6px;font-weight:700;font-size:9.5px"><span class="cb" style="transform:scaleX(.67);-webkit-text-stroke:0.3px #fff">CPU</span></div><div class="sc" style="top:582.6px">:</div>
<div class="sv" style="top:582.6px"><span style="display:inline-block;white-space:pre;font-weight:400;font-size:9.6px;word-spacing:1.8px;transform:scaleX(1.16);transform-origin:0 50%;margin-left:0.5px;margin-right:2.09px;-webkit-text-stroke:0.2px #fff;">11</span><span style="display:inline-block;white-space:pre;font-weight:700;font-size:9.6px;word-spacing:3.2px;transform:scaleX(0.675);transform-origin:0 50%;margin-left:0.0px;margin-right:-41.94px;-webkit-text-stroke:0.3px #fff;">th Gen Intel(R) Core(TM) i</span><span style="display:inline-block;white-space:pre;font-weight:400;font-size:9.6px;word-spacing:1.8px;transform:scaleX(1.16);transform-origin:0 50%;margin-left:0.5px;margin-right:5.17px;-webkit-text-stroke:0.2px #fff;">7-1165</span><span style="display:inline-block;white-space:pre;font-weight:700;font-size:9.6px;word-spacing:3.2px;transform:scaleX(0.675);transform-origin:0 50%;margin-left:0.0px;margin-right:-2.43px;-webkit-text-stroke:0.3px #fff;">G</span><span style="display:inline-block;white-space:pre;font-weight:400;font-size:9.6px;word-spacing:1.8px;transform:scaleX(1.16);transform-origin:0 50%;margin-left:0.5px;margin-right:7.33px;-webkit-text-stroke:0.2px #fff;">7 @ 2.80</span><span style="display:inline-block;white-space:pre;font-weight:700;font-size:9.6px;word-spacing:3.2px;transform:scaleX(0.675);transform-origin:0 50%;margin-left:0.0px;margin-right:-6.24px;-webkit-text-stroke:0.3px #fff;">GHz</span></div>

<div class="sk" style="top:601.6px;font-weight:700;font-size:9.5px"><span class="cb" style="transform:scaleX(.67);-webkit-text-stroke:0.3px #fff">GPU</span></div><div class="sc" style="top:601.6px">:</div>
<div class="sv" style="top:601.6px"><span style="display:inline-block;white-space:pre;font-weight:700;font-size:9.6px;word-spacing:3.2px;transform:scaleX(0.675);transform-origin:0 50%;margin-left:0.0px;margin-right:-31.61px;-webkit-text-stroke:0.3px #fff;">NVIDIA GeForce MX</span><span style="display:inline-block;white-space:pre;font-weight:400;font-size:9.6px;word-spacing:1.8px;transform:scaleX(1.16);transform-origin:0 50%;margin-left:0.5px;margin-right:3.06px;-webkit-text-stroke:0.2px #fff;">450</span></div>

<div class="sk cn" style="top:619.5px;font-weight:400">驱动程序</div><div class="sc" style="top:619.5px">:</div>
<div class="sv" style="top:619.5px"><span style="display:inline-block;white-space:pre;font-weight:700;font-size:9.6px;word-spacing:3.2px;transform:scaleX(0.675);transform-origin:0 50%;margin-left:0.0px;margin-right:-11.27px;-webkit-text-stroke:0.3px #fff;">Nvidia </span><span style="display:inline-block;white-space:pre;font-weight:400;font-size:9.6px;word-spacing:1.8px;transform:scaleX(1.16);transform-origin:0 50%;margin-left:0.5px;margin-right:5.20px;-webkit-text-stroke:0.2px #fff;">460.89</span><span style="display:inline-block;white-space:pre;font-weight:700;font-size:9.6px;word-spacing:3.2px;transform:scaleX(0.675);transform-origin:0 50%;margin-left:0.0px;margin-right:-36.23px;-webkit-text-stroke:0.3px #fff;">, driver build branch r</span><span style="display:inline-block;white-space:pre;font-weight:400;font-size:9.6px;word-spacing:1.8px;transform:scaleX(1.16);transform-origin:0 50%;margin-left:0.5px;margin-right:5.62px;-webkit-text-stroke:0.2px #fff;">460_74</span></div>

</div>
</body>
</html>
